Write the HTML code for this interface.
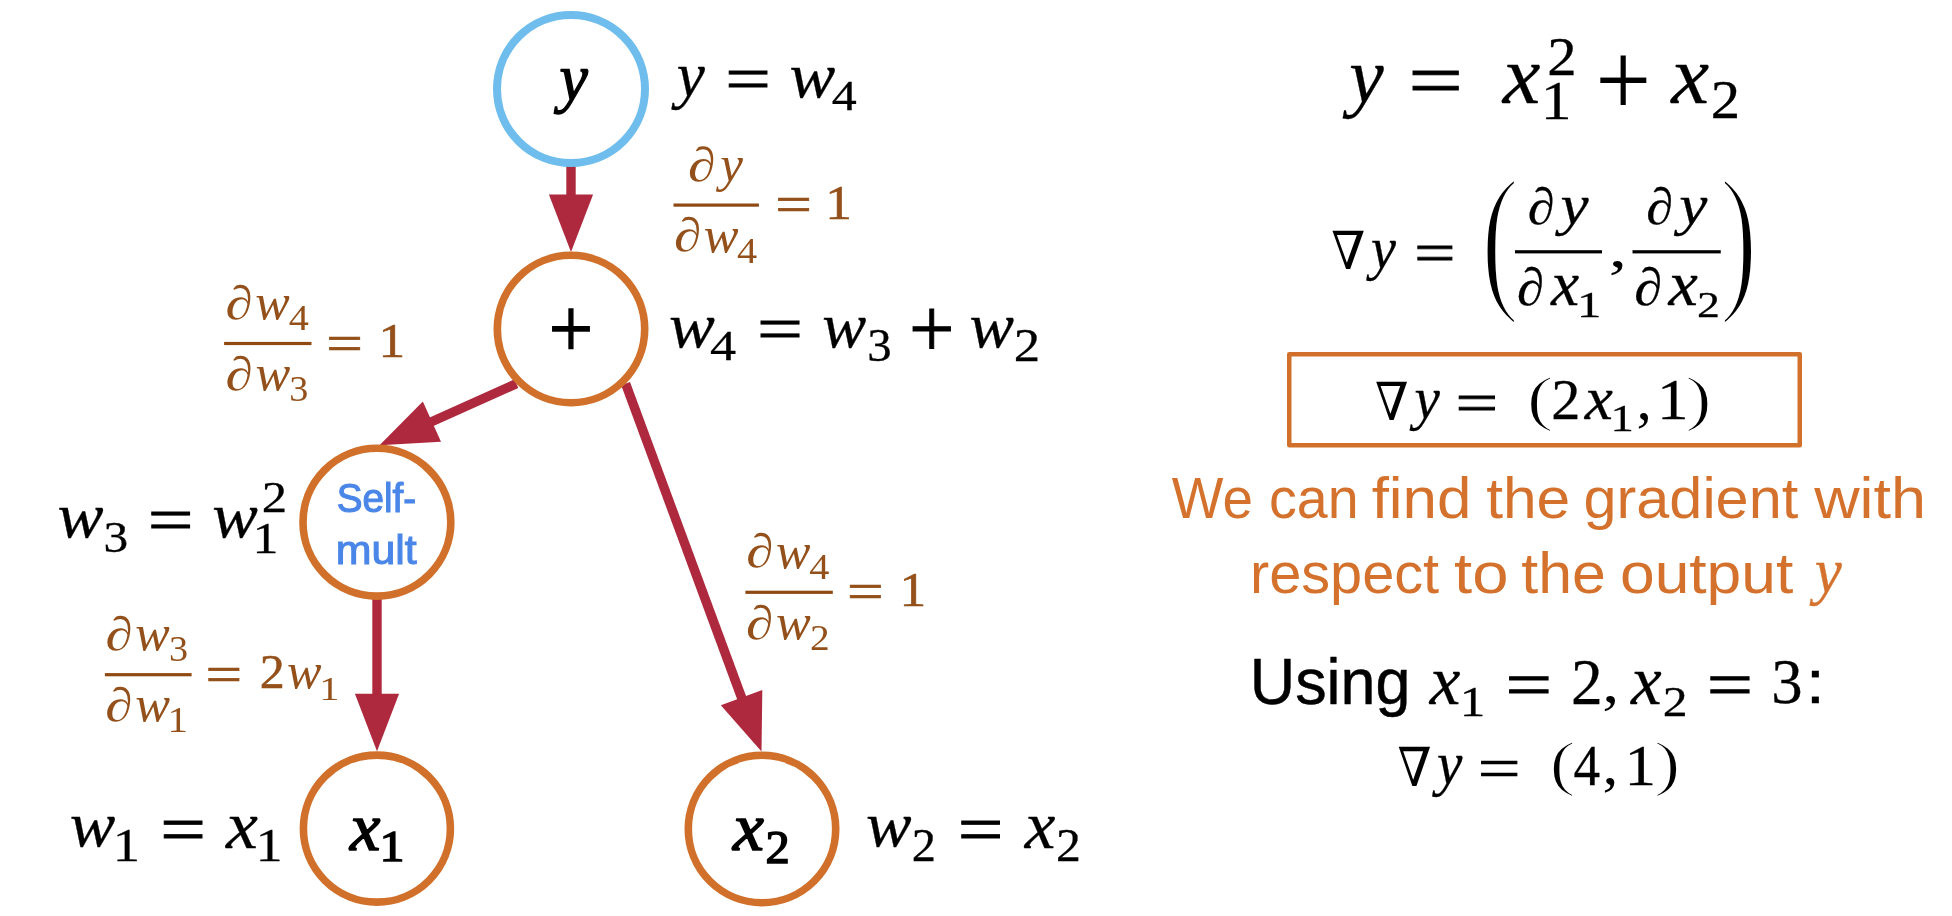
<!DOCTYPE html>
<html><head><meta charset="utf-8"><title>Reverse-mode autodiff graph</title>
<style>html,body{margin:0;padding:0;background:#fff;overflow:hidden}svg{display:block;filter:blur(0.35px)}text{white-space:pre}</style>
</head><body>
<svg width="1952" height="916" viewBox="0 0 1952 916">
<rect width="1952" height="916" fill="#fff"/>
<line x1="571.00" y1="160.00" x2="571.00" y2="195.40" stroke="#AE293D" stroke-width="9.4"/>
<polygon points="571.00,251.90 548.90,194.40 593.10,194.40" fill="#AE293D"/>
<line x1="516.40" y1="383.60" x2="431.01" y2="422.08" stroke="#AE293D" stroke-width="9.4"/>
<polygon points="379.50,445.30 422.84,401.53 441.00,441.82" fill="#AE293D"/>
<line x1="625.60" y1="383.60" x2="741.92" y2="698.50" stroke="#AE293D" stroke-width="9.4"/>
<polygon points="761.50,751.50 720.84,705.22 762.31,689.90" fill="#AE293D"/>
<line x1="377.00" y1="595.00" x2="377.00" y2="694.80" stroke="#AE293D" stroke-width="9.4"/>
<polygon points="377.00,751.30 354.90,693.80 399.10,693.80" fill="#AE293D"/>
<circle cx="571" cy="89" r="74.00" fill="#fff" stroke="#6FBDED" stroke-width="8"/>
<circle cx="571" cy="329" r="73.70" fill="#fff" stroke="#D1702A" stroke-width="7.6"/>
<circle cx="376.9" cy="522.2" r="73.90" fill="#fff" stroke="#D1702A" stroke-width="7.6"/>
<circle cx="376.9" cy="828.6" r="73.50" fill="#fff" stroke="#D1702A" stroke-width="7.6"/>
<circle cx="762" cy="829" r="73.70" fill="#fff" stroke="#D1702A" stroke-width="7.6"/>
<text transform="matrix(0.6383 0 0 0.6464 559.41 100.39)" font-family="'Liberation Serif',serif" font-style="italic" font-weight="normal" font-size="100" fill="#000" stroke="#000" stroke-width="2.02">y</text>
<text transform="matrix(0.7876 0 0 0.8519 548.71 356.70)" font-family="'Liberation Serif',serif" font-style="normal" font-weight="normal" font-size="100" fill="#000" stroke="#000" stroke-width="1.59">+</text>
<text transform="matrix(0.6830 0 0 0.6859 350.02 849.95)" font-family="'Liberation Serif',serif" font-style="italic" font-weight="normal" font-size="100" fill="#000" stroke="#000" stroke-width="2.34">x</text>
<text transform="matrix(0.5000 0 0 0.4530 379.55 861.25)" font-family="'Liberation Serif',serif" font-style="normal" font-weight="normal" font-size="100" fill="#000" stroke="#000" stroke-width="3.15">1</text>
<text transform="matrix(0.6953 0 0 0.6739 732.88 849.60)" font-family="'Liberation Serif',serif" font-style="italic" font-weight="normal" font-size="100" fill="#000" stroke="#000" stroke-width="2.34">x</text>
<text transform="matrix(0.4851 0 0 0.4562 765.62 862.55)" font-family="'Liberation Serif',serif" font-style="normal" font-weight="normal" font-size="100" fill="#000" stroke="#000" stroke-width="3.19">2</text>
<text transform="matrix(0.3861 0 0 0.4130 336.77 512.20)" font-family="'Liberation Sans',sans-serif" font-style="normal" font-weight="normal" font-size="100" fill="#4A86E8" stroke="#4A86E8" stroke-width="2.75">Self-</text>
<text transform="matrix(0.4290 0 0 0.4050 335.72 564.30)" font-family="'Liberation Sans',sans-serif" font-style="normal" font-weight="normal" font-size="100" fill="#4A86E8" stroke="#4A86E8" stroke-width="2.64">mult</text>
<text transform="matrix(0.6335 0 0 0.6317 676.72 96.21)" font-family="'Liberation Serif',serif" font-style="italic" font-weight="normal" font-size="100" fill="#000" stroke="#000" stroke-width="0.47">y</text>
<text transform="matrix(0.8090 0 0 0.6440 725.35 100.30)" font-family="'Liberation Serif',serif" font-style="normal" font-weight="normal" font-size="100" fill="#000" stroke="#000" stroke-width="1.38">=</text>
<text transform="matrix(0.6871 0 0 0.6319 789.50 96.72)" font-family="'Liberation Serif',serif" font-style="italic" font-weight="normal" font-size="100" fill="#000" stroke="#000" stroke-width="0.45">w</text>
<text transform="matrix(0.5000 0 0 0.4134 831.65 109.85)" font-family="'Liberation Serif',serif" font-style="normal" font-weight="normal" font-size="100" fill="#000" stroke="#000" stroke-width="0.66">4</text>
<text transform="matrix(0.6871 0 0 0.6426 669.00 346.71)" font-family="'Liberation Serif',serif" font-style="italic" font-weight="normal" font-size="100" fill="#000" stroke="#000" stroke-width="0.45">w</text>
<text transform="matrix(0.5216 0 0 0.4134 710.11 359.85)" font-family="'Liberation Serif',serif" font-style="normal" font-weight="normal" font-size="100" fill="#000" stroke="#000" stroke-width="0.64">4</text>
<text transform="matrix(0.8155 0 0 0.6360 757.12 349.93)" font-family="'Liberation Serif',serif" font-style="normal" font-weight="normal" font-size="100" fill="#000" stroke="#000" stroke-width="1.38">=</text>
<text transform="matrix(0.6596 0 0 0.6426 822.32 346.71)" font-family="'Liberation Serif',serif" font-style="italic" font-weight="normal" font-size="100" fill="#000" stroke="#000" stroke-width="0.46">w</text>
<text transform="matrix(0.4879 0 0 0.4568 867.31 360.89)" font-family="'Liberation Serif',serif" font-style="normal" font-weight="normal" font-size="100" fill="#000" stroke="#000" stroke-width="0.64">3</text>
<text transform="matrix(0.8069 0 0 0.8391 908.92 356.52)" font-family="'Liberation Serif',serif" font-style="normal" font-weight="normal" font-size="100" fill="#000" stroke="#000" stroke-width="1.09">+</text>
<text transform="matrix(0.6675 0 0 0.6426 969.55 346.71)" font-family="'Liberation Serif',serif" font-style="italic" font-weight="normal" font-size="100" fill="#000" stroke="#000" stroke-width="0.46">w</text>
<text transform="matrix(0.5274 0 0 0.4592 1013.83 360.55)" font-family="'Liberation Serif',serif" font-style="normal" font-weight="normal" font-size="100" fill="#000" stroke="#000" stroke-width="0.61">2</text>
<text transform="matrix(0.6903 0 0 0.6319 57.39 536.72)" font-family="'Liberation Serif',serif" font-style="italic" font-weight="normal" font-size="100" fill="#000" stroke="#000" stroke-width="0.45">w</text>
<text transform="matrix(0.4928 0 0 0.4449 103.38 552.01)" font-family="'Liberation Serif',serif" font-style="normal" font-weight="normal" font-size="100" fill="#000" stroke="#000" stroke-width="0.64">3</text>
<text transform="matrix(0.8112 0 0 0.6440 147.84 541.20)" font-family="'Liberation Serif',serif" font-style="normal" font-weight="normal" font-size="100" fill="#000" stroke="#000" stroke-width="1.37">=</text>
<text transform="matrix(0.6832 0 0 0.6319 212.26 536.72)" font-family="'Liberation Serif',serif" font-style="italic" font-weight="normal" font-size="100" fill="#000" stroke="#000" stroke-width="0.46">w</text>
<text transform="matrix(0.5075 0 0 0.4517 261.72 512.45)" font-family="'Liberation Serif',serif" font-style="normal" font-weight="normal" font-size="100" fill="#000" stroke="#000" stroke-width="0.63">2</text>
<text transform="matrix(0.5199 0 0 0.4409 252.57 552.95)" font-family="'Liberation Serif',serif" font-style="normal" font-weight="normal" font-size="100" fill="#000" stroke="#000" stroke-width="0.62">1</text>
<text transform="matrix(0.6832 0 0 0.6319 69.76 846.22)" font-family="'Liberation Serif',serif" font-style="italic" font-weight="normal" font-size="100" fill="#000" stroke="#000" stroke-width="0.46">w</text>
<text transform="matrix(0.5455 0 0 0.4652 112.85 860.65)" font-family="'Liberation Serif',serif" font-style="normal" font-weight="normal" font-size="100" fill="#000" stroke="#000" stroke-width="0.59">1</text>
<text transform="matrix(0.8101 0 0 0.6760 160.20 852.26)" font-family="'Liberation Serif',serif" font-style="normal" font-weight="normal" font-size="100" fill="#000" stroke="#000" stroke-width="1.35">=</text>
<text transform="matrix(0.7188 0 0 0.6674 226.01 847.85)" font-family="'Liberation Serif',serif" font-style="italic" font-weight="normal" font-size="100" fill="#000" stroke="#000" stroke-width="0.43">x</text>
<text transform="matrix(0.5369 0 0 0.4652 255.72 860.65)" font-family="'Liberation Serif',serif" font-style="normal" font-weight="normal" font-size="100" fill="#000" stroke="#000" stroke-width="0.60">1</text>
<text transform="matrix(0.6832 0 0 0.6319 866.01 846.22)" font-family="'Liberation Serif',serif" font-style="italic" font-weight="normal" font-size="100" fill="#000" stroke="#000" stroke-width="0.46">w</text>
<text transform="matrix(0.4838 0 0 0.4653 911.77 860.65)" font-family="'Liberation Serif',serif" font-style="normal" font-weight="normal" font-size="100" fill="#000" stroke="#000" stroke-width="0.63">2</text>
<text transform="matrix(0.8101 0 0 0.6760 957.70 852.26)" font-family="'Liberation Serif',serif" font-style="normal" font-weight="normal" font-size="100" fill="#000" stroke="#000" stroke-width="1.35">=</text>
<text transform="matrix(0.6908 0 0 0.6674 1024.73 847.85)" font-family="'Liberation Serif',serif" font-style="italic" font-weight="normal" font-size="100" fill="#000" stroke="#000" stroke-width="0.44">x</text>
<text transform="matrix(0.4975 0 0 0.4637 1055.96 860.65)" font-family="'Liberation Serif',serif" font-style="normal" font-weight="normal" font-size="100" fill="#000" stroke="#000" stroke-width="0.62">2</text>
<rect x="673.50" y="203.50" width="85.40" height="3.20" fill="#8F4A14"/>
<text transform="matrix(0.5571 0 0 0.4810 687.91 181.13)" font-family="'Liberation Serif',serif" font-style="italic" font-weight="normal" font-size="100" fill="#93501A">∂</text>
<text transform="matrix(0.5114 0 0 0.5148 720.30 180.68)" font-family="'Liberation Serif',serif" font-style="italic" font-weight="normal" font-size="100" fill="#93501A">y</text>
<text transform="matrix(0.5571 0 0 0.4755 673.91 251.43)" font-family="'Liberation Serif',serif" font-style="italic" font-weight="normal" font-size="100" fill="#93501A">∂</text>
<text transform="matrix(0.5220 0 0 0.4979 703.85 251.60)" font-family="'Liberation Serif',serif" font-style="italic" font-weight="normal" font-size="100" fill="#93501A">w</text>
<text transform="matrix(0.4030 0 0 0.3556 737.09 262.60)" font-family="'Liberation Serif',serif" font-style="normal" font-weight="normal" font-size="100" fill="#93501A">4</text>
<text transform="matrix(0.6502 0 0 0.5280 775.20 222.13)" font-family="'Liberation Serif',serif" font-style="normal" font-weight="normal" font-size="100" fill="#93501A" stroke="#93501A" stroke-width="1.19">=</text>
<text transform="matrix(0.5341 0 0 0.4939 825.20 218.80)" font-family="'Liberation Serif',serif" font-style="normal" font-weight="normal" font-size="100" fill="#93501A" stroke="#93501A" stroke-width="1.17">1</text>
<rect x="224.10" y="341.90" width="87.40" height="3.20" fill="#8F4A14"/>
<text transform="matrix(0.5524 0 0 0.4742 225.62 318.54)" font-family="'Liberation Serif',serif" font-style="italic" font-weight="normal" font-size="100" fill="#93501A">∂</text>
<text transform="matrix(0.5173 0 0 0.4979 255.36 318.80)" font-family="'Liberation Serif',serif" font-style="italic" font-weight="normal" font-size="100" fill="#93501A">w</text>
<text transform="matrix(0.4030 0 0 0.3571 288.69 330.00)" font-family="'Liberation Serif',serif" font-style="normal" font-weight="normal" font-size="100" fill="#93501A">4</text>
<text transform="matrix(0.5571 0 0 0.4755 225.51 389.83)" font-family="'Liberation Serif',serif" font-style="italic" font-weight="normal" font-size="100" fill="#93501A">∂</text>
<text transform="matrix(0.5220 0 0 0.4979 255.45 390.00)" font-family="'Liberation Serif',serif" font-style="italic" font-weight="normal" font-size="100" fill="#93501A">w</text>
<text transform="matrix(0.3816 0 0 0.3482 289.27 400.65)" font-family="'Liberation Serif',serif" font-style="normal" font-weight="normal" font-size="100" fill="#93501A">3</text>
<text transform="matrix(0.6502 0 0 0.5280 326.30 360.53)" font-family="'Liberation Serif',serif" font-style="normal" font-weight="normal" font-size="100" fill="#93501A" stroke="#93501A" stroke-width="1.19">=</text>
<text transform="matrix(0.5341 0 0 0.4939 378.60 357.20)" font-family="'Liberation Serif',serif" font-style="normal" font-weight="normal" font-size="100" fill="#93501A" stroke="#93501A" stroke-width="1.17">1</text>
<rect x="104.90" y="673.10" width="86.70" height="3.20" fill="#8F4A14"/>
<text transform="matrix(0.5524 0 0 0.4742 105.42 649.74)" font-family="'Liberation Serif',serif" font-style="italic" font-weight="normal" font-size="100" fill="#93501A">∂</text>
<text transform="matrix(0.5173 0 0 0.4979 135.16 650.00)" font-family="'Liberation Serif',serif" font-style="italic" font-weight="normal" font-size="100" fill="#93501A">w</text>
<text transform="matrix(0.3816 0 0 0.3497 169.07 660.85)" font-family="'Liberation Serif',serif" font-style="normal" font-weight="normal" font-size="100" fill="#93501A">3</text>
<text transform="matrix(0.5571 0 0 0.4755 105.31 721.03)" font-family="'Liberation Serif',serif" font-style="italic" font-weight="normal" font-size="100" fill="#93501A">∂</text>
<text transform="matrix(0.5220 0 0 0.4979 135.25 721.20)" font-family="'Liberation Serif',serif" font-style="italic" font-weight="normal" font-size="100" fill="#93501A">w</text>
<text transform="matrix(0.4091 0 0 0.3545 167.50 732.20)" font-family="'Liberation Serif',serif" font-style="normal" font-weight="normal" font-size="100" fill="#93501A">1</text>
<text transform="matrix(0.6502 0 0 0.5280 205.50 691.73)" font-family="'Liberation Serif',serif" font-style="normal" font-weight="normal" font-size="100" fill="#93501A" stroke="#93501A" stroke-width="1.19">=</text>
<text transform="matrix(0.5000 0 0 0.4789 259.65 688.05)" font-family="'Liberation Serif',serif" font-style="normal" font-weight="normal" font-size="100" fill="#93501A" stroke="#93501A" stroke-width="1.02">2</text>
<text transform="matrix(0.5173 0 0 0.4979 287.06 688.00)" font-family="'Liberation Serif',serif" font-style="italic" font-weight="normal" font-size="100" fill="#93501A">w</text>
<text transform="matrix(0.4063 0 0 0.3364 319.23 699.50)" font-family="'Liberation Serif',serif" font-style="normal" font-weight="normal" font-size="100" fill="#93501A">1</text>
<rect x="745.40" y="590.70" width="87.40" height="3.20" fill="#8F4A14"/>
<text transform="matrix(0.5524 0 0 0.4742 746.22 567.34)" font-family="'Liberation Serif',serif" font-style="italic" font-weight="normal" font-size="100" fill="#93501A">∂</text>
<text transform="matrix(0.5173 0 0 0.4979 775.96 567.60)" font-family="'Liberation Serif',serif" font-style="italic" font-weight="normal" font-size="100" fill="#93501A">w</text>
<text transform="matrix(0.4030 0 0 0.3571 809.29 578.80)" font-family="'Liberation Serif',serif" font-style="normal" font-weight="normal" font-size="100" fill="#93501A">4</text>
<text transform="matrix(0.5571 0 0 0.4755 746.11 638.63)" font-family="'Liberation Serif',serif" font-style="italic" font-weight="normal" font-size="100" fill="#93501A">∂</text>
<text transform="matrix(0.5220 0 0 0.4979 776.05 638.80)" font-family="'Liberation Serif',serif" font-style="italic" font-weight="normal" font-size="100" fill="#93501A">w</text>
<text transform="matrix(0.3930 0 0 0.3535 809.97 649.80)" font-family="'Liberation Serif',serif" font-style="normal" font-weight="normal" font-size="100" fill="#93501A">2</text>
<text transform="matrix(0.6502 0 0 0.5280 846.90 609.33)" font-family="'Liberation Serif',serif" font-style="normal" font-weight="normal" font-size="100" fill="#93501A" stroke="#93501A" stroke-width="1.19">=</text>
<text transform="matrix(0.5341 0 0 0.4939 899.40 606.00)" font-family="'Liberation Serif',serif" font-style="normal" font-weight="normal" font-size="100" fill="#93501A" stroke="#93501A" stroke-width="1.17">1</text>
<text transform="matrix(0.7756 0 0 0.7722 1349.16 101.92)" font-family="'Liberation Serif',serif" font-style="italic" font-weight="normal" font-size="100" fill="#000" stroke="#000" stroke-width="0.39">y</text>
<text transform="matrix(0.9710 0 0 0.7600 1408.14 105.81)" font-family="'Liberation Serif',serif" font-style="normal" font-weight="normal" font-size="100" fill="#000" stroke="#000" stroke-width="1.16">=</text>
<text transform="matrix(0.8482 0 0 0.8152 1502.67 103.35)" font-family="'Liberation Serif',serif" font-style="italic" font-weight="normal" font-size="100" fill="#000" stroke="#000" stroke-width="0.36">x</text>
<text transform="matrix(0.5883 0 0 0.5438 1547.36 74.65)" font-family="'Liberation Serif',serif" font-style="normal" font-weight="normal" font-size="100" fill="#000" stroke="#000" stroke-width="0.53">2</text>
<text transform="matrix(0.6165 0 0 0.5424 1540.73 119.45)" font-family="'Liberation Serif',serif" font-style="normal" font-weight="normal" font-size="100" fill="#000" stroke="#000" stroke-width="0.52">1</text>
<text transform="matrix(0.9828 0 0 1.0601 1595.49 116.29)" font-family="'Liberation Serif',serif" font-style="normal" font-weight="normal" font-size="100" fill="#000" stroke="#000" stroke-width="0.20">+</text>
<text transform="matrix(0.8527 0 0 0.8152 1671.17 103.35)" font-family="'Liberation Serif',serif" font-style="italic" font-weight="normal" font-size="100" fill="#000" stroke="#000" stroke-width="0.36">x</text>
<text transform="matrix(0.5871 0 0 0.5544 1710.87 118.35)" font-family="'Liberation Serif',serif" font-style="normal" font-weight="normal" font-size="100" fill="#000" stroke="#000" stroke-width="0.53">2</text>
<text transform="matrix(0.4883 0 0 0.5240 1331.23 268.75)" font-family="'DejaVu Serif',serif" font-style="normal" font-weight="normal" font-size="100" fill="#000">∇</text>
<text transform="matrix(0.5625 0 0 0.5947 1371.12 267.51)" font-family="'Liberation Serif',serif" font-style="italic" font-weight="normal" font-size="100" fill="#000" stroke="#000" stroke-width="0.52">y</text>
<text transform="matrix(0.7296 0 0 0.5800 1414.35 271.56)" font-family="'Liberation Serif',serif" font-style="normal" font-weight="normal" font-size="100" fill="#000" stroke="#000" stroke-width="1.53">=</text>
<text transform="matrix(1.1426 0 0 1.6340 1480.97 291.25)" font-family="'Liberation Serif',serif" font-style="normal" font-weight="normal" font-size="100" fill="#000" stroke="#fff" stroke-width="2.63">(</text>
<text transform="matrix(1.1337 0 0 1.6344 1719.87 291.26)" font-family="'Liberation Serif',serif" font-style="normal" font-weight="normal" font-size="100" fill="#000" stroke="#fff" stroke-width="2.65">)</text>
<rect x="1515.00" y="250.20" width="87.00" height="3.20" fill="#000"/>
<rect x="1632.50" y="250.20" width="88.25" height="3.20" fill="#000"/>
<text transform="matrix(0.5405 0 0 0.5156 1527.81 223.63)" font-family="'Liberation Serif',serif" font-style="italic" font-weight="normal" font-size="100" fill="#000" stroke="#000" stroke-width="0.57">∂</text>
<text transform="matrix(0.6335 0 0 0.5799 1560.47 224.32)" font-family="'Liberation Serif',serif" font-style="italic" font-weight="normal" font-size="100" fill="#000" stroke="#000" stroke-width="0.49">y</text>
<text transform="matrix(0.5464 0 0 0.5292 1517.04 304.61)" font-family="'Liberation Serif',serif" font-style="italic" font-weight="normal" font-size="100" fill="#000" stroke="#000" stroke-width="0.56">∂</text>
<text transform="matrix(0.6350 0 0 0.6293 1550.91 305.35)" font-family="'Liberation Serif',serif" font-style="italic" font-weight="normal" font-size="100" fill="#000" stroke="#000" stroke-width="0.47">x</text>
<text transform="matrix(0.4886 0 0 0.3667 1577.10 316.85)" font-family="'Liberation Serif',serif" font-style="normal" font-weight="normal" font-size="100" fill="#000" stroke="#000" stroke-width="0.70">1</text>
<text transform="matrix(0.7333 0 0 0.5469 1608.71 267.19)" font-family="'Liberation Serif',serif" font-style="normal" font-weight="normal" font-size="100" fill="#000">,</text>
<text transform="matrix(0.5405 0 0 0.5156 1646.31 223.63)" font-family="'Liberation Serif',serif" font-style="italic" font-weight="normal" font-size="100" fill="#000" stroke="#000" stroke-width="0.57">∂</text>
<text transform="matrix(0.6335 0 0 0.5799 1679.22 224.32)" font-family="'Liberation Serif',serif" font-style="italic" font-weight="normal" font-size="100" fill="#000" stroke="#000" stroke-width="0.49">y</text>
<text transform="matrix(0.5643 0 0 0.5292 1634.23 304.61)" font-family="'Liberation Serif',serif" font-style="italic" font-weight="normal" font-size="100" fill="#000" stroke="#000" stroke-width="0.55">∂</text>
<text transform="matrix(0.6629 0 0 0.6293 1668.45 305.35)" font-family="'Liberation Serif',serif" font-style="italic" font-weight="normal" font-size="100" fill="#000" stroke="#000" stroke-width="0.46">x</text>
<text transform="matrix(0.4590 0 0 0.3656 1696.88 316.85)" font-family="'Liberation Serif',serif" font-style="normal" font-weight="normal" font-size="100" fill="#000" stroke="#000" stroke-width="0.73">2</text>
<rect x="1289.25" y="354.25" width="510.5" height="91" fill="none" stroke="#D1702A" stroke-width="4.5" stroke-linejoin="round"/>
<text transform="matrix(0.4805 0 0 0.5240 1375.00 419.50)" font-family="'DejaVu Serif',serif" font-style="normal" font-weight="normal" font-size="100" fill="#000">∇</text>
<text transform="matrix(0.5720 0 0 0.5873 1414.45 418.41)" font-family="'Liberation Serif',serif" font-style="italic" font-weight="normal" font-size="100" fill="#000" stroke="#000" stroke-width="0.52">y</text>
<text transform="matrix(0.7564 0 0 0.5600 1455.47 422.45)" font-family="'Liberation Serif',serif" font-style="normal" font-weight="normal" font-size="100" fill="#000" stroke="#000" stroke-width="1.52">=</text>
<text transform="matrix(0.8027 0 0 0.6083 1526.82 419.04)" font-family="'Liberation Serif',serif" font-style="normal" font-weight="normal" font-size="100" fill="#000" stroke="#fff" stroke-width="2.24">(</text>
<text transform="matrix(0.5833 0 0 0.5733 1551.33 419.35)" font-family="'Liberation Serif',serif" font-style="normal" font-weight="normal" font-size="100" fill="#000" stroke="#000" stroke-width="0.52">2</text>
<text transform="matrix(0.6350 0 0 0.6076 1584.66 419.35)" font-family="'Liberation Serif',serif" font-style="italic" font-weight="normal" font-size="100" fill="#000" stroke="#000" stroke-width="0.48">x</text>
<text transform="matrix(0.4673 0 0 0.3742 1610.54 431.10)" font-family="'Liberation Serif',serif" font-style="normal" font-weight="normal" font-size="100" fill="#000" stroke="#000" stroke-width="0.71">1</text>
<text transform="matrix(0.6167 0 0 0.6055 1636.41 418.80)" font-family="'Liberation Serif',serif" font-style="normal" font-weight="normal" font-size="100" fill="#000">,</text>
<text transform="matrix(0.6307 0 0 0.5750 1657.10 419.35)" font-family="'Liberation Serif',serif" font-style="normal" font-weight="normal" font-size="100" fill="#000" stroke="#000" stroke-width="0.50">1</text>
<text transform="matrix(0.7965 0 0 0.6084 1685.30 419.04)" font-family="'Liberation Serif',serif" font-style="normal" font-weight="normal" font-size="100" fill="#000" stroke="#fff" stroke-width="2.26">)</text>
<text transform="matrix(0.5474 0 0 0.5650 1171.78 518.00)" font-family="'Liberation Sans',sans-serif" font-style="normal" font-weight="normal" font-size="100" fill="#D4722D">We</text>
<text transform="matrix(0.5561 0 0 0.5650 1268.91 518.00)" font-family="'Liberation Sans',sans-serif" font-style="normal" font-weight="normal" font-size="100" fill="#D4722D">can</text>
<text transform="matrix(0.6193 0 0 0.5650 1371.63 518.00)" font-family="'Liberation Sans',sans-serif" font-style="normal" font-weight="normal" font-size="100" fill="#D4722D">find</text>
<text transform="matrix(0.6051 0 0 0.5650 1486.15 518.00)" font-family="'Liberation Sans',sans-serif" font-style="normal" font-weight="normal" font-size="100" fill="#D4722D">the</text>
<text transform="matrix(0.5941 0 0 0.5650 1583.50 518.00)" font-family="'Liberation Sans',sans-serif" font-style="normal" font-weight="normal" font-size="100" fill="#D4722D">gradient</text>
<text transform="matrix(0.6294 0 0 0.5650 1814.13 518.00)" font-family="'Liberation Sans',sans-serif" font-style="normal" font-weight="normal" font-size="100" fill="#D4722D">with</text>
<text transform="matrix(0.5770 0 0 0.5650 1249.94 592.50)" font-family="'Liberation Sans',sans-serif" font-style="normal" font-weight="normal" font-size="100" fill="#D4722D">respect</text>
<text transform="matrix(0.6523 0 0 0.5650 1454.09 592.50)" font-family="'Liberation Sans',sans-serif" font-style="normal" font-weight="normal" font-size="100" fill="#D4722D">to</text>
<text transform="matrix(0.6081 0 0 0.5650 1521.35 592.50)" font-family="'Liberation Sans',sans-serif" font-style="normal" font-weight="normal" font-size="100" fill="#D4722D">the</text>
<text transform="matrix(0.6233 0 0 0.5650 1619.98 592.50)" font-family="'Liberation Sans',sans-serif" font-style="normal" font-weight="normal" font-size="100" fill="#D4722D">output</text>
<text transform="matrix(0.6098 0 0 0.6428 1814.77 592.22)" font-family="'Liberation Serif',serif" font-style="italic" font-weight="normal" font-size="100" fill="#D4722D" stroke="#D4722D" stroke-width="0.48">y</text>
<text transform="matrix(0.6283 0 0 0.6480 1249.77 704.00)" font-family="'Liberation Sans',sans-serif" font-style="normal" font-weight="normal" font-size="100" fill="#000" stroke="#000" stroke-width="0.78">Using</text>
<text transform="matrix(0.6908 0 0 0.7000 1429.73 703.60)" font-family="'Liberation Serif',serif" font-style="italic" font-weight="normal" font-size="100" fill="#000" stroke="#000" stroke-width="0.43">x</text>
<text transform="matrix(0.5114 0 0 0.4235 1459.65 716.10)" font-family="'Liberation Serif',serif" font-style="normal" font-weight="normal" font-size="100" fill="#000" stroke="#000" stroke-width="0.64">1</text>
<text transform="matrix(0.8262 0 0 0.6600 1505.62 706.98)" font-family="'Liberation Serif',serif" font-style="normal" font-weight="normal" font-size="100" fill="#000" stroke="#000" stroke-width="1.35">=</text>
<text transform="matrix(0.6331 0 0 0.6563 1571.11 703.60)" font-family="'Liberation Serif',serif" font-style="normal" font-weight="normal" font-size="100" fill="#000" stroke="#000" stroke-width="0.47">2</text>
<text transform="matrix(0.6833 0 0 0.5859 1602.15 702.34)" font-family="'Liberation Serif',serif" font-style="normal" font-weight="normal" font-size="100" fill="#000">,</text>
<text transform="matrix(0.6908 0 0 0.7000 1630.98 703.60)" font-family="'Liberation Serif',serif" font-style="italic" font-weight="normal" font-size="100" fill="#000" stroke="#000" stroke-width="0.43">x</text>
<text transform="matrix(0.4963 0 0 0.4222 1662.72 716.10)" font-family="'Liberation Serif',serif" font-style="normal" font-weight="normal" font-size="100" fill="#000" stroke="#000" stroke-width="0.65">2</text>
<text transform="matrix(0.8208 0 0 0.6600 1706.65 706.98)" font-family="'Liberation Serif',serif" font-style="normal" font-weight="normal" font-size="100" fill="#000" stroke="#000" stroke-width="1.35">=</text>
<text transform="matrix(0.6268 0 0 0.6280 1771.14 702.97)" font-family="'Liberation Serif',serif" font-style="normal" font-weight="normal" font-size="100" fill="#000" stroke="#000" stroke-width="0.48">3</text>
<text transform="matrix(0.7128 0 0 0.6193 1805.39 703.45)" font-family="'Liberation Sans',sans-serif" font-style="normal" font-weight="normal" font-size="100" fill="#000" stroke="#000" stroke-width="0.45">:</text>
<text transform="matrix(0.4883 0 0 0.5377 1397.48 785.50)" font-family="'DejaVu Serif',serif" font-style="normal" font-weight="normal" font-size="100" fill="#000">∇</text>
<text transform="matrix(0.5720 0 0 0.6058 1436.95 784.27)" font-family="'Liberation Serif',serif" font-style="italic" font-weight="normal" font-size="100" fill="#000" stroke="#000" stroke-width="0.51">y</text>
<text transform="matrix(0.7607 0 0 0.6000 1477.85 788.28)" font-family="'Liberation Serif',serif" font-style="normal" font-weight="normal" font-size="100" fill="#000" stroke="#000" stroke-width="1.18">=</text>
<text transform="matrix(0.7832 0 0 0.6030 1549.40 784.16)" font-family="'Liberation Serif',serif" font-style="normal" font-weight="normal" font-size="100" fill="#000" stroke="#fff" stroke-width="2.30">(</text>
<text transform="matrix(0.5323 0 0 0.5729 1573.59 784.85)" font-family="'Liberation Serif',serif" font-style="normal" font-weight="normal" font-size="100" fill="#000" stroke="#000" stroke-width="0.54">4</text>
<text transform="matrix(0.6333 0 0 0.5664 1602.59 783.89)" font-family="'Liberation Serif',serif" font-style="normal" font-weight="normal" font-size="100" fill="#000">,</text>
<text transform="matrix(0.6307 0 0 0.5712 1624.60 784.85)" font-family="'Liberation Serif',serif" font-style="normal" font-weight="normal" font-size="100" fill="#000" stroke="#000" stroke-width="0.50">1</text>
<text transform="matrix(0.7965 0 0 0.6028 1654.05 784.15)" font-family="'Liberation Serif',serif" font-style="normal" font-weight="normal" font-size="100" fill="#000" stroke="#fff" stroke-width="2.26">)</text>
</svg>
</body></html>
